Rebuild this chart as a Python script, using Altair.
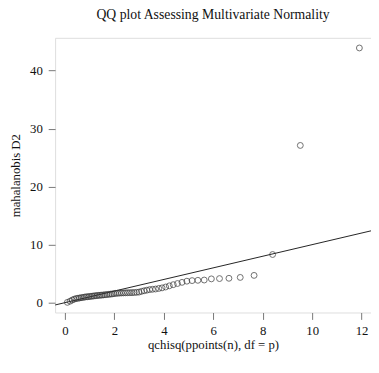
import altair as alt
import pandas as pd

# theoretical chi-square quantiles (x) and sorted Mahalanobis distances (y)
qx = [0.096, 0.204, 0.292, 0.371, 0.445, 0.516, 0.584, 0.651, 0.717, 0.782,
      0.845, 0.910, 0.973, 1.037, 1.101, 1.165, 1.230, 1.294, 1.358, 1.424,
      1.490, 1.558, 1.626, 1.694, 1.765, 1.835, 1.905, 1.978, 2.052, 2.128,
      2.205, 2.285, 2.366, 2.449, 2.533, 2.621, 2.711, 2.803, 2.898, 2.995,
      3.097, 3.202, 3.311, 3.425, 3.541, 3.665, 3.794, 3.929, 4.072, 4.221,
      4.381, 4.551, 4.735, 4.931, 5.143, 5.376, 5.633, 5.922, 6.251, 6.633,
      7.090, 7.650, 8.400, 9.520, 11.910]
d2 = [0.05, 0.25, 0.45, 0.60, 0.70, 0.75, 0.80, 0.85, 0.90, 0.95,
      1.00, 1.02, 1.05, 1.08, 1.12, 1.15, 1.20, 1.22, 1.25, 1.28,
      1.30, 1.33, 1.37, 1.40, 1.43, 1.47, 1.50, 1.55, 1.60, 1.62,
      1.65, 1.67, 1.68, 1.70, 1.71, 1.72, 1.73, 1.75, 1.78, 1.82,
      1.95, 2.05, 2.15, 2.25, 2.30, 2.35, 2.45, 2.55, 2.70, 2.90,
      3.10, 3.30, 3.50, 3.70, 3.80, 3.85, 3.90, 4.10, 4.15, 4.20,
      4.35, 4.70, 8.30, 27.10, 43.90]

# reference line y = x
ref_x = [-0.40, 12.38]
ref_y = [-0.40, 12.38]

x_ticks = [0, 2, 4, 6, 8, 10, 12]
y_ticks = [0, 10, 20, 30, 40]

pts = pd.DataFrame({"x": qx, "y": d2})
ref = pd.DataFrame({"x": ref_x, "y": ref_y})

FONT = "Liberation Serif"
xs = alt.Scale(domain=[-0.40, 12.38], nice=False, zero=False)
ys = alt.Scale(domain=[-1.70, 45.65], nice=False, zero=False)

xax = alt.Axis(values=x_ticks, format="d", grid=False, domain=False,
               tickSize=7, tickColor="#777", labelPadding=5,
               labelFont=FONT, labelFontSize=13, labelColor="#111",
               title="qchisq(ppoints(n), df = p)", titleFont=FONT,
               titleFontSize=13, titleFontWeight="normal", titleColor="#111",
               titleY=33, titleBaseline="middle")
yax = alt.Axis(values=y_ticks, format="d", grid=False, domain=False,
               tickSize=7, tickColor="#777", labelPadding=6,
               labelFont=FONT, labelFontSize=13, labelColor="#111",
               title="mahalanobis D2", titleFont=FONT, titleFontSize=13,
               titleFontWeight="normal", titleColor="#111",
               titleX=-40, titleY=140, titleAngle=-90,
               titleAlign="center", titleBaseline="middle")

points = alt.Chart(pts).mark_point(
    shape="circle", filled=False, size=36, color="#333", strokeWidth=1, clip=True
).encode(
    x=alt.X("x:Q", scale=xs, axis=xax),
    y=alt.Y("y:Q", scale=ys, axis=yax),
)

line = alt.Chart(ref).mark_line(color="#222", strokeWidth=1, clip=True).encode(
    x=alt.X("x:Q", scale=xs),
    y=alt.Y("y:Q", scale=ys),
)

chart = alt.layer(line, points).properties(
    width=322, height=280,
    title=alt.TitleParams("QQ plot Assessing Multivariate Normality",
                          font=FONT, fontSize=14, fontWeight="normal",
                          color="#111", anchor="middle", offset=16),
    autosize=alt.AutoSizeParams(type="none"),
    padding={"left": 48, "top": 27, "right": 0, "bottom": 45},
).configure_view(
    stroke="#777", strokeWidth=1
).configure(background="white")

chart.save("out.html", embed_options={"renderer": "svg", "actions": False})
